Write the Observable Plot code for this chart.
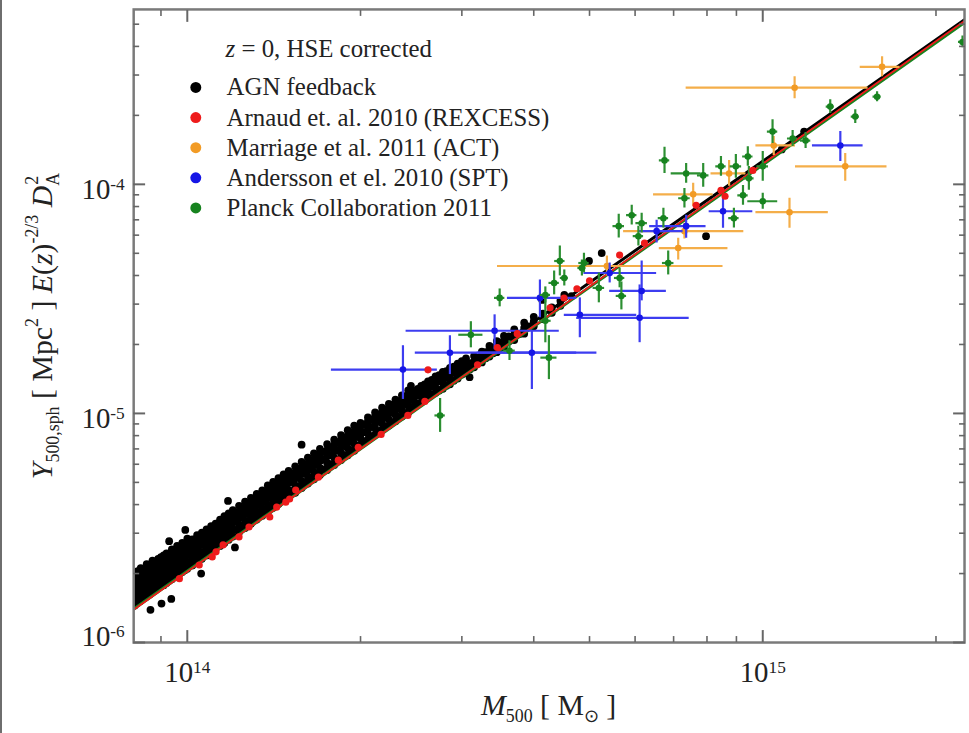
<!DOCTYPE html>
<html><head><meta charset="utf-8">
<script src="https://cdn.jsdelivr.net/npm/d3@7"></script>
<script src="https://cdn.jsdelivr.net/npm/@observablehq/plot@0.6"></script>
<style>
html,body{margin:0;padding:0;background:#fff;overflow:hidden;}
#wrap{position:relative;width:969px;height:733px;overflow:hidden;}
#edge{position:absolute;left:0;top:0;width:2px;height:733px;background:#6e6e6e;z-index:2;}
#wrap svg{position:absolute;left:0;top:0;}
</style></head><body><div id="wrap"><div id="edge"></div></div>
<script>
// ---------------- DATA (M in 1e14 Msun, Y in 1e-6 Mpc^2) ----------------
const seriesNames = ["AGN feedback","Arnaud et. al. 2010 (REXCESS)","Marriage et al. 2011 (ACT)","Andersson et el. 2010 (SPT)","Planck Collaboration 2011"];
const xMajorTicks = [1e14, 1e15];
const xMinorTicks = [9e13, 2e14, 3e14, 4e14, 5e14, 6e14, 7e14, 8e14, 9e14, 2e15];
const yMajorTicks = [1e-6, 1e-5, 1e-4];
const yMinorTicks = [2e-6,3e-6,4e-6,5e-6,6e-6,7e-6,8e-6,9e-6,2e-5,3e-5,4e-5,5e-5,6e-5,7e-5,8e-5,9e-5,2e-4,3e-4,4e-4,5e-4];

// AGN feedback simulated clusters: mass columns and the Y values read in each column
const agnMass = [0.81,0.82,0.83,0.84,0.85,0.86,0.87,0.88,0.89,0.90,0.91,0.92,0.93,0.94,0.95,0.96,0.97,0.98,0.99,1.00,
 1.02,1.04,1.06,1.08,1.10,1.12,1.14,1.16,1.18,1.20,
 1.23,1.26,1.29,1.32,1.35,1.38,1.41,1.44,1.47,1.50,
 1.54,1.58,1.62,1.66,1.70,
 1.75,1.80,1.85,1.90,1.95,2.00,
 2.06,2.12,2.18,2.24,2.30,2.36,2.42,2.48,
 2.55,2.62,2.70,2.78,2.86,2.95,
 3.05,3.15,3.25,3.35,3.45,3.55,
 3.70,3.85,4.00,4.15,4.30,4.45,4.65];
const agnY = [
[1.45,1.53,1.60,1.67,1.74,1.82,1.90,1.98],
[1.49,1.57,1.64,1.71,1.79,1.87,1.96,2.05],
[1.52,1.61,1.70,1.80,1.91,2.02,2.11],
[1.56,1.64,1.73,1.83,1.94,2.06],
[1.59,1.68,1.78,1.88,1.99,2.10,2.20],
[1.62,1.72,1.82,1.93,2.04,2.15],
[1.66,1.76,1.86,1.97,2.08,2.20,2.28],
[1.69,1.79,1.90,2.01,2.13,2.25],
[1.73,1.83,1.95,2.06,2.18,2.32],
[1.76,1.87,1.98,2.10,2.22,2.36],
[1.78,1.90,2.02,2.14,2.27,2.40],
[1.82,1.94,2.06,2.19,2.32,2.45],
[1.86,1.98,2.11,2.24,2.37],
[1.89,2.02,2.15,2.28,2.42,2.55],
[1.93,2.06,2.20,2.34,2.48],
[1.96,2.10,2.24,2.38,2.52,2.64],
[2.00,2.14,2.28,2.43,2.58],
[2.03,2.18,2.32,2.47,2.62,2.72],
[2.07,2.22,2.37,2.52,2.66],
[2.10,2.25,2.41,2.56,2.72,2.84],
[2.17,2.33,2.49,2.65,2.82],
[2.24,2.41,2.58,2.76,2.94],
[2.32,2.49,2.67,2.85,3.02],
[2.40,2.58,2.76,2.95,3.12],
[2.48,2.66,2.85,3.04,3.22],
[2.56,2.75,2.94,3.14,3.30],
[2.64,2.84,3.04,3.24,3.44],
[2.72,2.93,3.14,3.35,3.56],
[2.81,3.02,3.24,3.46,3.66],
[2.90,3.12,3.34,3.56,3.78],
[3.03,3.26,3.49,3.72,3.95],
[3.16,3.40,3.64,3.88,4.12],
[3.30,3.55,3.80,4.04,4.28],
[3.44,3.70,3.96,4.20,4.45],
[3.58,3.85,4.12,4.38,4.62],
[3.72,4.00,4.28,4.56,4.85],
[3.87,4.16,4.45,4.74,5.02],
[4.02,4.32,4.62,4.92,5.22],
[4.17,4.48,4.80,5.12,5.42],
[4.32,4.64,4.98,5.30,5.62],
[4.50,4.85,5.20,5.55,5.88],
[4.72,5.08,5.44,5.80,6.14],
[4.94,5.31,5.68,6.05,6.42],
[5.16,5.55,5.94,6.32,6.70],
[5.38,5.79,6.20,6.60,7.00],
[5.66,6.08,6.50,6.92,7.34],
[5.96,6.40,6.84,7.28,7.68],
[6.26,6.72,7.18,7.64,8.05],
[6.56,7.05,7.52,8.00,8.45],
[6.88,7.38,7.88,8.38,8.85],
[7.30,7.80,8.30,8.80,9.10],
[7.70,8.20,8.70,9.20,9.60],
[8.10,8.65,9.15,9.70,10.1],
[8.50,9.05,9.60,10.1,10.6],
[8.85,9.40,10.0,10.5,11.0],
[9.25,9.85,10.4,11.0,11.5],
[9.70,10.3,10.9,11.5,12.0],
[10.1,10.8,11.4,12.0,12.6],
[10.7,11.3,11.9,12.5],
[11.2,11.9,12.5,13.2],
[11.8,12.5,13.1,13.8],
[12.3,13.0,13.7,14.5],
[12.8,13.6,14.3,15.2],
[13.4,14.2,15.0,15.8],
[14.2,15.0,15.8,16.5],
[15.0,15.8,16.7,17.4],
[15.9,16.8,17.8],
[16.7,17.6,18.6],
[17.7,18.7,19.7],
[18.5,19.6,20.7],
[19.5,20.6,21.8],
[20.9,22.1,23.3],
[22.3,23.6,24.9],
[24.0,25.2,26.4],
[25.8,27.3],
[27.5,29.0],
[29.5,31.0],
[32.5]
];
// further AGN clusters between the columns above
const agnMass2 = [1.215,1.245,1.275,1.305,1.335,1.365,1.395,1.425,1.455,1.485,1.52,1.56,1.60,1.64,1.68,1.725,1.775,1.825,1.875,1.925,1.975,
 2.03,2.09,2.15,2.21,2.27,2.33,2.39,2.45,2.515,2.585,2.66,2.74,2.82,2.905,3.0,3.10,3.20,3.30,3.40,3.50,3.62,3.78,3.92];
const agnY2 = [
[3.10,3.38,3.66],[3.22,3.52,3.85],[3.40,3.70,4.02],[3.50,3.86,4.18],[3.66,4.02,4.36],[3.78,4.18,4.52],
[3.95,4.35,4.70],[4.10,4.50,4.90],[4.25,4.68,5.08],[4.40,4.86,5.28],[4.58,5.02,5.46],[4.78,5.26,5.70],
[5.00,5.48,5.96],[5.22,5.72,6.20],[5.45,5.98,6.48],[5.70,6.28,6.80],[6.00,6.58,7.10],[6.30,6.88,7.45],
[6.58,7.20,7.80],[6.90,7.55,8.15],[7.20,7.90,8.55],[7.55,8.28,8.95],[7.95,8.72,9.40],[8.35,9.18,9.90],
[8.75,9.62,10.4],[9.15,10.1,10.9],[9.60,10.5,11.3],[10.0,11.0,11.8],[10.5,11.5,12.3],[11.0,12.0,12.8],
[11.5,12.5,13.4],[12.1,13.1,14.0],[12.6,13.8,14.7],[13.2,14.4,15.3],[13.9,15.1,16.0],[14.8,15.9,16.9],
[15.6,16.6],[16.6,17.5],[17.4,18.5],[18.3,19.4],[19.3,20.4],[20.6,21.7],[22.2],[24.0]
];
// isolated AGN clusters
const agnOutM = [1.58, 2.447, 3.094, 1.177, 0.863, 1.057, 1.21, 0.938, 0.902, 0.992, 0.93, 4.99, 5.25, 7.97, 10.79, 11.8, 4.137, 4.52];
const agnOutY = [7.3, 13.2, 14.4, 4.15, 1.39, 2.0, 2.6, 1.55, 1.48, 3.1, 2.77, 46.3, 50.1, 59.4, 142, 170, 31.3, 32.9];

// REXCESS (Arnaud et al. 2010)
const rexM = [1.105,1.122,1.154,1.28,1.391,1.43,1.483,1.506,1.543,1.69,1.83,1.982,2.172,2.417,2.587,2.62,3.194,3.744,4.27,4.515,4.754,5.0,5.64,6.23,8.46,8.60,9.61,3.458,1.23,1.049,0.969,7.66];
const rexY = [2.365,2.487,2.668,3.194,3.53,3.90,4.10,4.23,4.63,5.27,6.25,7.11,8.10,9.80,11.28,15.5,16.3,22.3,28.9,31.9,35.0,37.9,49.1,55.4,94.2,88.7,115,19.4,2.89,2.18,1.90,81];

// ACT (Marriage et al. 2011)
const actM   = [16.12, 11.36, 10.45, 13.91, 8.74, 7.57, 11.13, 7.13, 5.36, 7.31];
const actMlo = [14.77, 7.36, 9.73, 11.40, 8.13, 6.46, 9.73, 6.61, 3.46, 5.73];
const actMhi = [17.31, 15.24, 11.40, 16.44, 9.35, 8.20, 13.0, 8.70, 8.53, 9.27];
const actY   = [325.8, 264.1, 147.8, 119.8, 111.6, 90.46, 75.56, 52.69, 44.0, 62.47];
const actYlo = [294.8, 236.5, 133.7, 103.1, 98.0, 80.24, 64.38, 46.73, 39.81, 57.67];
const actYhi = [360.2, 294.8, 161.7, 136.4, 127.2, 101.0, 86.96, 58.23, 48.64, 67.68];

// SPT (Andersson et al. 2010)
const sptM   = [2.37, 2.86, 3.42, 3.97, 4.10, 4.81, 6.11, 6.16, 5.42, 6.54, 7.36, 8.53, 13.64];
const sptMlo = [1.78, 2.49, 2.40, 3.19, 3.60, 4.52, 4.75, 5.42, 4.89, 6.11, 6.36, 8.07, 12.20];
const sptMhi = [2.72, 4.75, 4.43, 5.15, 4.75, 6.04, 7.45, 6.80, 6.54, 7.27, 7.97, 9.61, 14.94];
const sptY   = [15.54, 18.41, 22.95, 18.41, 31.94, 26.94, 26.15, 34.26, 41.02, 62.47, 65.69, 76.3, 147.8];
const sptYlo = [11.51, 14.78, 18.98, 12.72, 26.15, 21.40, 20.36, 31.0, 37.12, 55.4, 58.23, 64.38, 125.9];
const sptYhi = [19.75, 21.83, 26.94, 22.95, 38.24, 31.94, 36.38, 46.27, 45.35, 69.75, 73.32, 86.96, 170.0];

// Planck Collaboration 2011 (errors in dex)
const planckM = [2.75,3.11,3.49,4.25,4.19,4.44,4.34,5.19,5.62,5.68,4.89,6.85,6.16,5.92,6.08,6.72,6.75,7.36,7.88,8.46,8.98,9.42,10.0,10.4,11.27,11.87,13.1,14.48,15.8,22.24,10.0,9.46,9.24,8.91,7.31,4.52,4.85,5.64,4.19,3.63];
const planckY = [9.80,22.05,31.94,17.52,25.37,46.27,37.12,35.30,65.69,32.58,45.35,45.35,67.68,73.32,59.40,71.15,127.2,111.6,109.4,119.8,119.8,132.3,119.8,170.0,158.5,155.3,218.4,197.6,241.3,418.5,84.37,106.2,89.58,71.15,86.96,39.02,43.13,39.02,32.91,18.79];
const planckLogErrM = [0.009,0.021,0.009,0.014,0.010,0.009,0.009,0.010,0.010,0.009,0.009,0.010,0.010,0.009,0.009,0.009,0.009,0.026,0.010,0.009,0.010,0.009,0.010,0.009,0.009,0.009,0.007,0.007,0.007,0.007,0.026,0.009,0.009,0.009,0.010,0.007,0.007,0.009,0.009,0.010];
const planckLogErrY = [0.074,0.057,0.039,0.096,0.096,0.065,0.052,0.065,0.052,0.061,0.043,0.052,0.043,0.043,0.043,0.043,0.057,0.043,0.052,0.043,0.052,0.043,0.065,0.052,0.035,0.035,0.030,0.030,0.022,0.026,0.035,0.052,0.043,0.043,0.043,0.035,0.035,0.043,0.035,0.043];

// best-fit relations (end points)
const fitMass = [0.807, 22.42];
const fitAGN = [1.50, 523];
const fitREXCESS = [1.391, 517];
const fitPlanck = [1.40, 509];

// ---------------- BUILD ----------------
const MU = 1e14, YU = 1e-6;
const agn = [];
agnMass.forEach((m, i) => (agnY[i] || []).forEach(y => agn.push({M: m*MU, Y: y*YU})));
agnMass2.forEach((m, i) => (agnY2[i] || []).forEach(y => agn.push({M: m*MU, Y: y*YU})));
agnOutM.forEach((m, i) => agn.push({M: m*MU, Y: agnOutY[i]*YU}));
const rex = rexM.map((m, i) => ({M: m*MU, Y: rexY[i]*YU}));
const act = actM.map((m, i) => ({M: m*MU, Mlo: actMlo[i]*MU, Mhi: actMhi[i]*MU, Y: actY[i]*YU, Ylo: actYlo[i]*YU, Yhi: actYhi[i]*YU}));
const spt = sptM.map((m, i) => ({M: m*MU, Mlo: sptMlo[i]*MU, Mhi: sptMhi[i]*MU, Y: sptY[i]*YU, Ylo: sptYlo[i]*YU, Yhi: sptYhi[i]*YU}));
const planck = planckM.map((m, i) => ({M: m*MU, Mlo: m*MU*Math.pow(10,-planckLogErrM[i]), Mhi: m*MU*Math.pow(10,planckLogErrM[i]),
  Y: planckY[i]*YU, Ylo: planckY[i]*YU*Math.pow(10,-planckLogErrY[i]), Yhi: planckY[i]*YU*Math.pow(10,planckLogErrY[i])}));
const line = arr => fitMass.map((m, i) => ({M: m*MU, Y: arr[i]*YU}));

const C = {black:"#000000", red:"#ee1b1b", orange:"#f29b25", blue:"#1616e6", green:"#17831f",
           orangeBar:"#f4ae4a", blueBar:"#3d3df0", greenBar:"#2c8f32"};
const F = "Liberation Serif";
const expFmt = d => "10^" + Math.round(Math.log10(d));
const blank = () => "";
const tickCol = "#666";

function errBars(data, barColor, dotColor) {
  return [
    Plot.ruleY(data, {y: "Y", x1: "Mlo", x2: "Mhi", stroke: barColor, strokeWidth: 2.2, clip: true}),
    Plot.ruleX(data, {x: "M", y1: "Ylo", y2: "Yhi", stroke: barColor, strokeWidth: 2.2, clip: true}),
    Plot.dot(data, {x: "M", y: "Y", r: 3.3, fill: dotColor, clip: true})
  ];
}

const plot = Plot.plot({
  width: 975, height: 733,
  marginLeft: 134, marginRight: 5, marginTop: 9, marginBottom: 87,
  x: {type: "log", domain: [8.069e13, 2.242e15], label: null},
  y: {type: "log", domain: [1e-6, 5.80e-4], label: null},
  style: {fontFamily: F, background: "transparent", color: "#222"},
  marks: [
    Plot.dot(agn, {x: "M", y: "Y", r: 3.9, fill: C.black, clip: true}),
    Plot.line(line(fitPlanck), {x: "M", y: "Y", stroke: C.green, strokeWidth: 3, clip: true}),
    Plot.line(line(fitAGN), {x: "M", y: "Y", stroke: C.black, strokeWidth: 3, clip: true}),
    Plot.line(line(fitREXCESS), {x: "M", y: "Y", stroke: C.red, strokeWidth: 1.8, clip: true}),
    ...errBars(act, C.orangeBar, C.orange),
    ...errBars(spt, C.blueBar, C.blue),
    ...errBars(planck, C.greenBar, C.green),
    Plot.dot(rex, {x: "M", y: "Y", r: 3.6, fill: C.red, clip: true}),
    Plot.frame({stroke: "#7a7a7a", strokeWidth: 2.5}),
    Plot.axisX({anchor: "bottom", ticks: xMajorTicks, tickSize: -12, tickPadding: 31, tickFormat: expFmt, fontSize: 29, stroke: tickCol, strokeWidth: 2, label: null}),
    Plot.axisX({anchor: "bottom", ticks: xMinorTicks, tickSize: -6, tickFormat: blank, stroke: tickCol, strokeWidth: 1.6, label: null}),
    Plot.axisX({anchor: "top", ticks: xMajorTicks, tickSize: -12, tickFormat: blank, stroke: tickCol, strokeWidth: 2, label: null}),
    Plot.axisX({anchor: "top", ticks: xMinorTicks, tickSize: -6, tickFormat: blank, stroke: tickCol, strokeWidth: 1.6, label: null}),
    Plot.axisY({anchor: "left", ticks: yMajorTicks, tickSize: -12, tickPadding: 21, tickFormat: expFmt, fontSize: 29, stroke: tickCol, strokeWidth: 2, label: null}),
    Plot.axisY({anchor: "left", ticks: yMinorTicks, tickSize: -6, tickFormat: blank, stroke: tickCol, strokeWidth: 1.6, label: null}),
    Plot.axisY({anchor: "right", ticks: yMajorTicks, tickSize: -12, tickFormat: blank, stroke: tickCol, strokeWidth: 2, label: null}),
    Plot.axisY({anchor: "right", ticks: yMinorTicks, tickSize: -6, tickFormat: blank, stroke: tickCol, strokeWidth: 1.6, label: null})
  ]
});
document.getElementById("wrap").appendChild(plot);

// ---------------- TEXT STYLING ----------------
const s = d3.select(plot);
s.selectAll("text").each(function() {
  const m = /^10\^(-?\d+)$/.exec(this.textContent);
  if (!m) return;
  const t = d3.select(this);
  t.text(null);
  t.append("tspan").text("10");
  t.append("tspan").attr("dy", "-0.5em").attr("font-size", "0.6em").text(m[1]);
  if (m[1].startsWith("-")) {
    const shift = m[1] === "-6" ? -6 : 5;
    t.attr("transform", (t.attr("transform") || "") + ` translate(0,${shift})`);
  }
});

function rich(parent, parts, fs) {
  let cur = 0;
  parts.forEach(p => {
    const sz = p.s === "sub" || p.s === "sup" ? fs * 0.6 : fs;
    const want = p.s === "sub" ? fs * 0.25 : p.s === "sup" ? -fs * 0.45 : 0;
    const ts = parent.append("tspan").text(p.t).attr("font-size", sz).attr("dy", want - cur);
    if (p.i) ts.attr("font-style", "italic");
    if (p.dx) ts.attr("dx", p.dx);
    cur = want;
  });
}

// x-axis title
const xt = s.append("text").attr("x", 552).attr("y", 719).attr("text-anchor", "middle")
  .attr("font-family", F).attr("fill", "#222");
rich(xt, [{t: "M", i: 1}, {t: "500", s: "sub"}, {t: " [ M"}, {t: "\u2299", s: "sub"}, {t: " ]"}], 30);

// y-axis title
const yt = s.append("text").attr("transform", "translate(52,328) rotate(-90)").attr("text-anchor", "middle")
  .attr("font-family", F).attr("fill", "#222");
rich(yt, [{t: "Y", i: 1}, {t: "500,sph", s: "sub"}, {t: " [ Mpc"}, {t: "2", s: "sup"}, {t: " ] "},
  {t: "E", i: 1}, {t: "("}, {t: "z", i: 1}, {t: ")"}, {t: "-2/3", s: "sup"}, {t: " "},
  {t: "D", i: 1}, {t: "A", s: "sub"}, {t: "2", s: "sup", dx: -12}], 30);

// legend
const lg = s.append("g").attr("font-family", F).attr("font-size", 25).attr("fill", "#222").attr("text-anchor", "start");
const lt = lg.append("text").attr("x", 227).attr("y", 57).attr("text-anchor", "start");
lt.append("tspan").attr("font-style", "italic").text("z");
lt.append("tspan").text(" = 0, HSE corrected");
const legColors = [C.black, C.red, C.orange, C.blue, C.green];
seriesNames.forEach((name, i) => {
  lg.append("circle").attr("cx", 197).attr("cy", 88 + i * 30.3).attr("r", 5.5).attr("fill", legColors[i]);
  lg.append("text").attr("x", 228).attr("y", 96 + i * 30.3).attr("text-anchor", "start").text(name);
});
</script>
</body></html>
